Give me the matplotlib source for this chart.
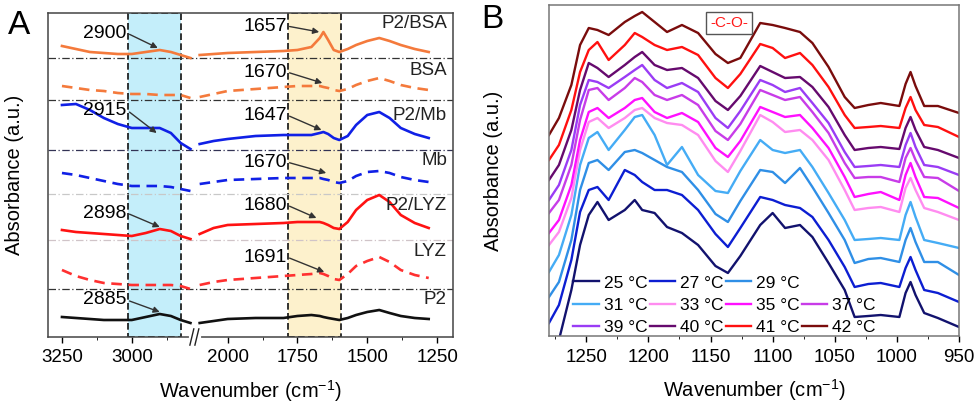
import numpy as np
import matplotlib
matplotlib.use('Agg')
import matplotlib.pyplot as plt
from matplotlib.lines import Line2D

plt.rcParams['font.family'] = ['Liberation Sans', 'DejaVu Sans']
plt.rcParams['mathtext.fontset'] = 'custom'
plt.rcParams['mathtext.rm'] = 'Liberation Sans'
plt.rcParams['mathtext.it'] = 'Liberation Sans:italic'
plt.rcParams['mathtext.bf'] = 'Liberation Sans:bold'

# ==== A: FTIR of P2 / protein films (broken wavenumber axis) ====
wn_hi = [3250, 3200, 3150, 3100, 3050, 3000, 2950, 2900, 2860, 2825, 2790]
wn_lo = [2100, 2050, 2000, 1900, 1800, 1750, 1700, 1670, 1657, 1640,
         1620, 1600, 1570, 1540, 1500, 1457, 1420, 1380, 1330, 1280]

samples_a = ['P2/BSA', 'BSA', 'P2/Mb', 'Mb', 'P2/LYZ', 'LYZ', 'P2']

p2bsa_hi = [291, 288, 285, 284, 283, 283, 285, 287, 285, 282, 279]
p2bsa_lo = [282, 283, 284, 285, 286, 287, 290, 299, 305, 297, 287, 285, 288, 292, 296, 299, 296, 292, 288, 285]
bsa_hi = [251, 249, 247, 246, 244, 243, 243, 242, 242, 242, 239]
bsa_lo = [240, 243, 246, 248, 250, 251, 251, 251, 250, 249, 247, 246, 248, 252, 256, 259, 256, 252, 249, 247]
p2mb_hi = [232, 233, 227, 219, 213, 209, 209, 209, 204, 194, 188]
p2mb_lo = [193, 196, 198, 201, 202, 202, 202, 204, 205, 203, 199, 197, 201, 212, 222, 225, 219, 209, 203, 199]
mb_hi = [164, 162, 159, 156, 153, 151, 151, 151, 150, 148, 146]
mb_lo = [153, 155, 157, 158, 159, 159, 159, 159, 158, 157, 155, 154, 156, 161, 165, 166, 164, 160, 157, 155]
p2lyz_hi = [107, 105, 104, 103, 102, 101, 104, 108, 106, 101, 98]
p2lyz_lo = [103, 109, 112, 113, 114, 115, 115, 115, 114, 112, 109, 108, 115, 127, 137, 142, 135, 122, 114, 109]
lyz_hi = [67, 61, 57, 54, 53, 52, 52, 52, 52, 51, 48]
lyz_lo = [52, 55, 57, 59, 61, 62, 63, 64, 63, 61, 58, 57, 63, 71, 76, 80, 75, 67, 62, 59]
p2_hi = [20, 19, 18, 17, 17, 17, 20, 23, 21, 17, 14]
p2_lo = [14, 16, 18, 19, 19, 21, 22, 21, 20, 19, 18, 17, 19, 22, 25, 27, 24, 21, 19, 18]

# horizontal dash-dot separators between stacked traces
sep_levels = [279, 237, 187, 143, 97, 48]
sep_colors = ['#333333', '#333333', '#333355', '#c8c8c8', '#d0c4c8', '#333333']

band_ch = (3015, 2825)
band_amide = (1782, 1593)

left_peaks = ['2900', '2915', '2898', '2885']
left_tip_wn = [2907, 2911, 2900, 2900]
left_tip_y = [289, 204, 110, 25]
right_peaks = ['1657', '1670', '1647', '1670', '1680', '1691']
right_tip_wn = [1672, 1661, 1664, 1647, 1682, 1654]
right_tip_y = [305, 254, 207, 164, 119, 65]

# ==== B: temperature series ====
wn_b = [1280, 1272, 1262, 1255, 1248, 1241, 1232, 1219, 1211, 1205, 1195, 1185,
        1173, 1160, 1146, 1136, 1126, 1110, 1100, 1090, 1078, 1068, 1055, 1042,
        1034, 1023, 1013, 998, 993, 989, 985, 978, 967, 950]
temps = ['25', '27', '29', '31', '33', '35', '37', '39', '40', '41', '42']
t25 = [-44, -4, 46, 91, 121, 134, 116, 126, 136, 126, 123, 109, 103, 91, 70, 63, 80, 111, 123, 108, 111, 99, 73, 46, 19, 20, 21, 19, 43, 54, 41, 23, 18, 9]
t27 = [13, 31, 76, 124, 146, 149, 136, 166, 161, 154, 146, 146, 141, 126, 102, 89, 108, 139, 136, 131, 128, 119, 96, 69, 49, 52, 53, 49, 68, 79, 66, 46, 43, 34]
t29 = [39, 54, 96, 146, 173, 176, 166, 184, 186, 183, 176, 169, 164, 146, 122, 114, 135, 166, 164, 153, 168, 149, 123, 96, 73, 77, 78, 74, 96, 108, 94, 74, 74, 61]
t31 = [64, 81, 121, 171, 198, 204, 186, 206, 219, 221, 201, 171, 189, 161, 145, 143, 165, 196, 186, 183, 186, 169, 143, 116, 96, 97, 98, 96, 121, 134, 119, 96, 93, 88]
t33 = [91, 104, 138, 186, 214, 218, 208, 218, 226, 228, 218, 213, 211, 201, 175, 164, 185, 221, 214, 204, 206, 196, 176, 146, 126, 128, 129, 124, 148, 158, 146, 128, 124, 116]
t35 = [103, 116, 151, 196, 224, 228, 218, 228, 236, 238, 224, 218, 223, 214, 188, 179, 195, 229, 224, 219, 221, 208, 188, 159, 139, 142, 144, 136, 161, 173, 159, 139, 138, 128]
t37 = [123, 136, 171, 216, 246, 248, 236, 248, 258, 254, 241, 236, 241, 231, 205, 196, 212, 246, 241, 236, 239, 224, 203, 173, 158, 159, 159, 154, 178, 188, 176, 159, 158, 145]
t39 = [136, 151, 186, 231, 256, 254, 248, 259, 266, 271, 256, 248, 253, 244, 218, 208, 225, 256, 251, 244, 248, 233, 213, 184, 169, 170, 171, 169, 191, 203, 189, 171, 169, 161]
t40 = [156, 171, 206, 246, 273, 268, 259, 271, 279, 284, 271, 266, 268, 258, 235, 226, 240, 270, 264, 258, 259, 249, 229, 201, 186, 188, 189, 187, 208, 219, 206, 189, 186, 178]
t41 = [176, 191, 226, 264, 286, 294, 276, 291, 303, 299, 291, 286, 289, 281, 258, 248, 262, 292, 288, 278, 283, 271, 249, 221, 208, 209, 210, 208, 228, 239, 226, 211, 209, 199]
t42 = [201, 218, 251, 291, 308, 306, 301, 314, 320, 324, 314, 304, 311, 303, 282, 273, 278, 313, 311, 308, 304, 293, 269, 239, 228, 231, 233, 230, 252, 264, 250, 230, 230, 223]
spectra_b = [t25, t27, t29, t31, t33, t35, t37, t39, t40, t41, t42]
colors_b = ['#12126e', '#0c1ed2', '#2f8fe6', '#45acf5', '#ff8cf0', '#ff10ff',
            '#c83ce8', '#9a3cf5', '#660a6e', '#ff1010', '#7a0c0c']

# ==== FIGURE ====
fig = plt.figure(figsize=(9.79, 4.08), dpi=100)
axA = fig.add_axes([48/979, 71/408, 405/979, 324/408])
axB = fig.add_axes([549/979, 72/408, 410/979, 331/408])

GAP = 657
def brk(w):
    w = np.asarray(w, dtype=float)
    return np.where(w > 2400, w, w + GAP)

# bands
for (a, b), fc in [(band_ch, '#c4eefa'), (band_amide, '#fdf1cc')]:
    axA.axvspan(brk(a), brk(b), facecolor=fc, edgecolor='#111111',
                linestyle=(0, (4, 2)), linewidth=1.2, zorder=0)

for y, c in zip(sep_levels, sep_colors):
    axA.axhline(y, color=c, linestyle=(0, (6, 2, 1, 2)), linewidth=0.9, zorder=1)

traces = [(p2bsa_hi, p2bsa_lo, '#f47a3c', '-'),
          (bsa_hi, bsa_lo, '#f47a3c', (0, (4, 2.5))),
          (p2mb_hi, p2mb_lo, '#1020e6', '-'),
          (mb_hi, mb_lo, '#1020e6', (0, (4, 2.5))),
          (p2lyz_hi, p2lyz_lo, '#ff1212', '-'),
          (lyz_hi, lyz_lo, '#ff3030', (0, (4, 2.5))),
          (p2_hi, p2_lo, '#111111', '-')]
xx = np.concatenate([brk(wn_hi), [np.nan], brk(wn_lo)])
for hi, lo, c, ls in traces:
    yy = np.concatenate([hi, [np.nan], lo])
    axA.plot(xx, yy, color=c, linestyle=ls, linewidth=1.9, zorder=3)

label_y = [314, 267, 222, 177, 132, 85, 37]
for name, y in zip(samples_a, label_y):
    axA.text(0.985, y, name, transform=axA.get_yaxis_transform(),
             ha='right', va='center', fontsize=13.5, color='#222222')

arrow = dict(arrowstyle='-|>', color='#333333', lw=1.0, mutation_scale=9,
             shrinkA=0, shrinkB=0, relpos=(1.0, 0.5))
left_text_y = [304, 227, 124, 37]
right_text_y = [311, 265, 222, 175, 132, 80]
for lab, tw, ty, ly in zip(left_peaks, left_tip_wn, left_tip_y, left_text_y):
    axA.annotate(lab, xy=(brk(tw), ty), xytext=(brk(3018), ly),
                 ha='right', va='center', fontsize=14, arrowprops=arrow, zorder=4)
for lab, tw, ty, ly in zip(right_peaks, right_tip_wn, right_tip_y, right_text_y):
    axA.annotate(lab, xy=(brk(tw), ty), xytext=(brk(1788), ly),
                 ha='right', va='center', fontsize=14, arrowprops=arrow, zorder=4)

axA.set_xlim(3300, 1850)
axA.set_ylim(0, 324)
axA.set_yticks([])
axA.set_xticks(brk([3250, 3000, 2000, 1750, 1500, 1250]))
axA.set_xticklabels(['3250', '3000', '2000', '1750', '1500', '1250'])
axA.set_xticks(brk([3125, 2875, 1875, 1625, 1375]), minor=True)
axA.tick_params(axis='x', labelsize=13.5, length=4, width=1, direction='out', pad=5)
axA.tick_params(axis='x', which='minor', length=2.5)
for s in axA.spines.values():
    s.set_color('#444444')
    s.set_linewidth(1.1)
axA.set_xlabel('Wavenumber (cm$^{-1}$)', fontsize=14.5, labelpad=8)
axA.set_ylabel('Absorbance (a.u.)', fontsize=14.5, labelpad=17)

# axis break marks
tr = axA.get_xaxis_transform()
axA.plot([2789, 2761], [0, 0], color='white', lw=3, transform=tr, clip_on=False, zorder=5)
for x0 in [2792, 2774]:
    axA.plot([x0, x0 - 14], [-0.025, 0.025], color='#222222', lw=1,
             transform=tr, clip_on=False, zorder=6)

fig.text(8/979, 1 - 25/408, 'A', fontsize=24, va='center', ha='left')
fig.text(481/979, 1 - 19/408, 'B', fontsize=24, va='center', ha='left')

# ==== B ====
handles = {}
for t, sp, c in zip(temps, spectra_b, colors_b):
    ln, = axB.plot(wn_b, sp, color=c, linewidth=1.7, label=f'{t} \u00b0C')
    handles[t] = ln

blank = Line2D([], [], color='none', label=' ')
order = [handles['25'], handles['31'], handles['39'],
         handles['27'], handles['33'], handles['40'],
         handles['29'], handles['35'], handles['41'],
         blank, handles['37'], handles['42']]
axB.legend(handles=order, labels=[h.get_label() for h in order], ncol=4,
           loc='lower left', bbox_to_anchor=(0.03, -0.035), frameon=False,
           fontsize=12.5, handlelength=1.45, handletextpad=0.3,
           columnspacing=0.12, labelspacing=0.42, borderpad=0.2)

axB.text(0.44, 0.945, '-C-O-', transform=axB.transAxes, color='#ff1a1a',
         fontsize=11, ha='center', va='center',
         bbox=dict(facecolor='white', edgecolor='#555555', linewidth=1, pad=3))

axB.set_xlim(1280, 950)
axB.set_ylim(0, 331)
axB.set_yticks([])
axB.set_xticks([1250, 1200, 1150, 1100, 1050, 1000, 950])
axB.set_xticks([1275, 1225, 1175, 1125, 1075, 1025, 975], minor=True)
axB.tick_params(axis='x', labelsize=13.5, length=4, width=1, direction='out', pad=5)
axB.tick_params(axis='x', which='minor', length=2.5)
for s in axB.spines.values():
    s.set_color('#777777')
    s.set_linewidth(1.1)
axB.set_xlabel('Wavenumber (cm$^{-1}$)', fontsize=14.5, labelpad=8)
axB.set_ylabel('Absorbance (a.u.)', fontsize=14.5, labelpad=33)

fig.savefig('out.png', dpi=100)
